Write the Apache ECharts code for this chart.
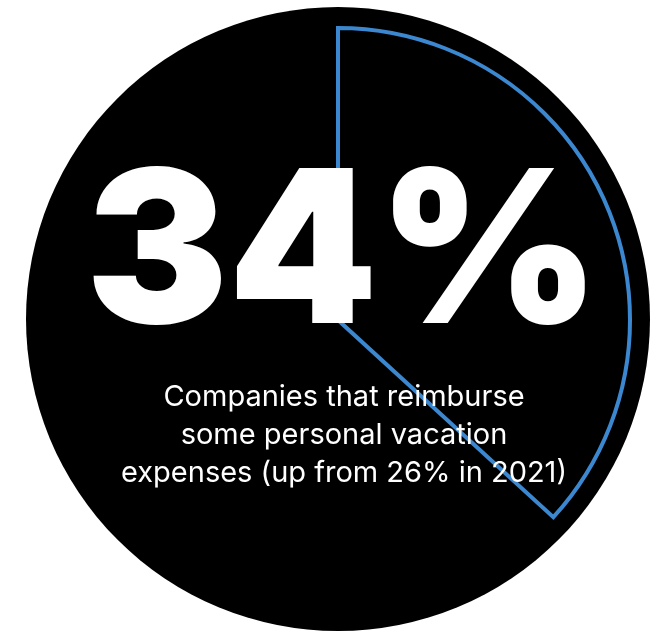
<!DOCTYPE html>
<html>
<head>
<meta charset="utf-8">
<script src="https://cdn.jsdelivr.net/npm/echarts@6/dist/echarts.min.js"></script>
<style>html,body{margin:0;padding:0;background:#fff;}#c{width:653px;height:633px;}</style>
</head>
<body>
<div id="c"></div>
<script>
// Data
const headline = '34%';
const captionLines = ['Companies that reimburse', 'some personal vacation', 'expenses (up from 26% in 2021)'];
// arc as drawn: highlighted share vs remainder (angle measured on the reference ≈ 132.5°)
const sliceNames = ['Reimburse', 'Other'];
const sliceValues = [36.8, 63.2];
const backgroundValues = [100];

const chart = echarts.init(document.getElementById('c'), null, {renderer: 'canvas'});
const option = {
  animation: false,
  backgroundColor: '#ffffff',
  series: [
    {
      type: 'pie',
      silent: true,
      center: [338, 319],
      radius: [0, 312],
      label: {show: false},
      labelLine: {show: false},
      itemStyle: {color: '#000000', borderWidth: 0},
      data: backgroundValues.map(v => ({value: v}))
    },
    {
      type: 'pie',
      silent: true,
      center: [338, 320],
      radius: [0, 292],
      startAngle: 90,
      clockwise: true,
      label: {show: false},
      labelLine: {show: false},
      data: sliceValues.map((v, i) => ({
        name: sliceNames[i],
        value: v,
        itemStyle: i === 0
          ? {color: 'rgba(0,0,0,0)', borderColor: '#3C88D0', borderWidth: 4, borderJoin: 'miter'}
          : {color: 'rgba(0,0,0,0)', borderWidth: 0}
      }))
    }
  ],
  graphic: [
    {
      type: 'text',
      z: 10,
      style: {
        text: headline,
        x: 343, y: 365,
        textAlign: 'center',
        textVerticalAlign: 'bottom',
        fill: '#ffffff',
        font: '900 213px Inter, Roboto, sans-serif'
      }
    }
  ].concat(captionLines.map((t, i) => ({
    type: 'text',
    z: 10,
    style: {
      text: t,
      x: 344, y: 383 + i * 38,
      textAlign: 'center',
      textVerticalAlign: 'top',
      fill: '#ffffff',
      font: '400 29px Inter, Roboto, sans-serif'
    }
  })))
};
chart.setOption(option);
</script>
</body>
</html>
